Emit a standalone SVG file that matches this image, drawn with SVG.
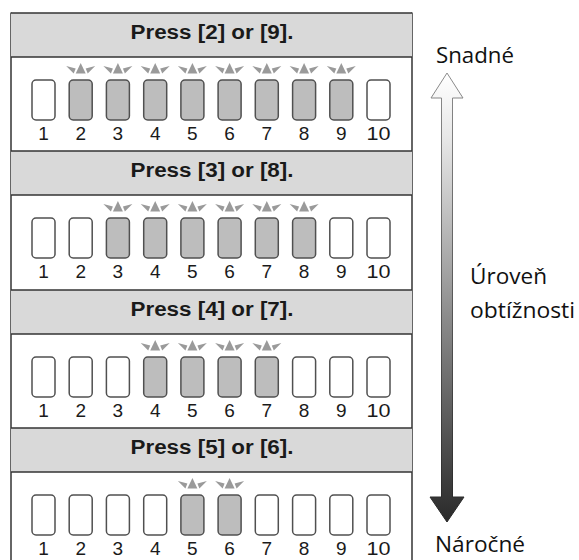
<svg xmlns="http://www.w3.org/2000/svg" xmlns:xlink="http://www.w3.org/1999/xlink" width="579" height="560" viewBox="0 0 579 560">
<style>
.hdr{fill:#d9d9d9}
.ln{stroke:#333;stroke-width:1.5;fill:none}
.ht{font-family:"Liberation Sans",Arial,sans-serif;font-weight:bold;font-size:19.5px;fill:#1a1a1a;text-anchor:middle}
.num{font-family:"Liberation Sans",Arial,sans-serif;font-size:19px;fill:#1a1a1a;text-anchor:middle}
.lbl{font-family:"Open Sans","Noto Sans",sans-serif;font-size:21px;fill:#111}
.key{stroke:#505050;stroke-width:1.5}
.off{fill:#fff}
.on{fill:#bdbdbd}
.crown{fill:#9a9a9a}
</style>
<defs>
<g id="crown">
<polygon class="crown" points="-14.5,-14 -5,-11.5 -7,-6.5"/>
<polygon class="crown" points="14.5,-14 5,-11.5 7,-6.5"/>
<polygon class="crown" points="0,-17 -5,-6.5 5,-6.5"/>
</g>
<rect id="kOff" class="key off" x="0" y="0" width="23" height="40" rx="4"/>
<rect id="kOn" class="key on" x="0" y="0" width="23" height="40" rx="4"/>
<linearGradient id="arrFill" gradientUnits="userSpaceOnUse" x1="0" y1="73" x2="0" y2="522">
<stop offset="0" stop-color="#ffffff"/>
<stop offset="0.15" stop-color="#e6e6e6"/>
<stop offset="0.55" stop-color="#8a8a8a"/>
<stop offset="1" stop-color="#2a2a2a"/>
</linearGradient>
<linearGradient id="arrStroke" gradientUnits="userSpaceOnUse" x1="0" y1="73" x2="0" y2="522">
<stop offset="0" stop-color="#8c8c8c"/>
<stop offset="1" stop-color="#262626"/>
</linearGradient>
</defs>

<g id="frame">
<line class="ln" x1="11" y1="12.5" x2="11" y2="560"/>
<line class="ln" x1="412" y1="12.5" x2="412" y2="560"/>
</g>

<g id="section1">
<rect class="hdr" x="11" y="13" width="401" height="44"/>
<line class="ln" x1="11" y1="13" x2="412" y2="13"/>
<line class="ln" x1="11" y1="57" x2="412" y2="57"/>
<text class="ht" x="212" y="38.5" textLength="163" lengthAdjust="spacingAndGlyphs">Press [2] or [9].</text>
<use xlink:href="#kOff" x="32" y="80"/>
<use xlink:href="#kOn" x="69.2" y="80"/><use xlink:href="#crown" x="80.7" y="80"/>
<use xlink:href="#kOn" x="106.4" y="80"/><use xlink:href="#crown" x="117.9" y="80"/>
<use xlink:href="#kOn" x="143.7" y="80"/><use xlink:href="#crown" x="155.2" y="80"/>
<use xlink:href="#kOn" x="180.9" y="80"/><use xlink:href="#crown" x="192.4" y="80"/>
<use xlink:href="#kOn" x="218.1" y="80"/><use xlink:href="#crown" x="229.6" y="80"/>
<use xlink:href="#kOn" x="255.3" y="80"/><use xlink:href="#crown" x="266.8" y="80"/>
<use xlink:href="#kOn" x="292.6" y="80"/><use xlink:href="#crown" x="304.1" y="80"/>
<use xlink:href="#kOn" x="329.8" y="80"/><use xlink:href="#crown" x="341.3" y="80"/>
<use xlink:href="#kOff" x="367" y="80"/>
<text class="num" x="43.5" y="140">1</text><text class="num" x="80.7" y="140">2</text><text class="num" x="117.9" y="140">3</text><text class="num" x="155.2" y="140">4</text><text class="num" x="192.4" y="140">5</text><text class="num" x="229.6" y="140">6</text><text class="num" x="266.8" y="140">7</text><text class="num" x="304.1" y="140">8</text><text class="num" x="341.3" y="140">9</text><text class="num" x="378.5" y="140" textLength="24" lengthAdjust="spacingAndGlyphs">10</text>
</g>

<g id="section2">
<rect class="hdr" x="11" y="151" width="401" height="44"/>
<line class="ln" x1="11" y1="151" x2="412" y2="151"/>
<line class="ln" x1="11" y1="195" x2="412" y2="195"/>
<text class="ht" x="212" y="176.5" textLength="163" lengthAdjust="spacingAndGlyphs">Press [3] or [8].</text>
<use xlink:href="#kOff" x="32" y="218"/>
<use xlink:href="#kOff" x="69.2" y="218"/>
<use xlink:href="#kOn" x="106.4" y="218"/><use xlink:href="#crown" x="117.9" y="218"/>
<use xlink:href="#kOn" x="143.7" y="218"/><use xlink:href="#crown" x="155.2" y="218"/>
<use xlink:href="#kOn" x="180.9" y="218"/><use xlink:href="#crown" x="192.4" y="218"/>
<use xlink:href="#kOn" x="218.1" y="218"/><use xlink:href="#crown" x="229.6" y="218"/>
<use xlink:href="#kOn" x="255.3" y="218"/><use xlink:href="#crown" x="266.8" y="218"/>
<use xlink:href="#kOn" x="292.6" y="218"/><use xlink:href="#crown" x="304.1" y="218"/>
<use xlink:href="#kOff" x="329.8" y="218"/>
<use xlink:href="#kOff" x="367" y="218"/>
<text class="num" x="43.5" y="278">1</text><text class="num" x="80.7" y="278">2</text><text class="num" x="117.9" y="278">3</text><text class="num" x="155.2" y="278">4</text><text class="num" x="192.4" y="278">5</text><text class="num" x="229.6" y="278">6</text><text class="num" x="266.8" y="278">7</text><text class="num" x="304.1" y="278">8</text><text class="num" x="341.3" y="278">9</text><text class="num" x="378.5" y="278" textLength="24" lengthAdjust="spacingAndGlyphs">10</text>
</g>

<g id="section3">
<rect class="hdr" x="11" y="290" width="401" height="44"/>
<line class="ln" x1="11" y1="290" x2="412" y2="290"/>
<line class="ln" x1="11" y1="334" x2="412" y2="334"/>
<text class="ht" x="212" y="315.5" textLength="163" lengthAdjust="spacingAndGlyphs">Press [4] or [7].</text>
<use xlink:href="#kOff" x="32" y="357"/>
<use xlink:href="#kOff" x="69.2" y="357"/>
<use xlink:href="#kOff" x="106.4" y="357"/>
<use xlink:href="#kOn" x="143.7" y="357"/><use xlink:href="#crown" x="155.2" y="357"/>
<use xlink:href="#kOn" x="180.9" y="357"/><use xlink:href="#crown" x="192.4" y="357"/>
<use xlink:href="#kOn" x="218.1" y="357"/><use xlink:href="#crown" x="229.6" y="357"/>
<use xlink:href="#kOn" x="255.3" y="357"/><use xlink:href="#crown" x="266.8" y="357"/>
<use xlink:href="#kOff" x="292.6" y="357"/>
<use xlink:href="#kOff" x="329.8" y="357"/>
<use xlink:href="#kOff" x="367" y="357"/>
<text class="num" x="43.5" y="417">1</text><text class="num" x="80.7" y="417">2</text><text class="num" x="117.9" y="417">3</text><text class="num" x="155.2" y="417">4</text><text class="num" x="192.4" y="417">5</text><text class="num" x="229.6" y="417">6</text><text class="num" x="266.8" y="417">7</text><text class="num" x="304.1" y="417">8</text><text class="num" x="341.3" y="417">9</text><text class="num" x="378.5" y="417" textLength="24" lengthAdjust="spacingAndGlyphs">10</text>
</g>

<g id="section4">
<rect class="hdr" x="11" y="428" width="401" height="44"/>
<line class="ln" x1="11" y1="428" x2="412" y2="428"/>
<line class="ln" x1="11" y1="472" x2="412" y2="472"/>
<text class="ht" x="212" y="454" textLength="163" lengthAdjust="spacingAndGlyphs">Press [5] or [6].</text>
<use xlink:href="#kOff" x="32" y="495"/>
<use xlink:href="#kOff" x="69.2" y="495"/>
<use xlink:href="#kOff" x="106.4" y="495"/>
<use xlink:href="#kOff" x="143.7" y="495"/>
<use xlink:href="#kOn" x="180.9" y="495"/><use xlink:href="#crown" x="192.4" y="495"/>
<use xlink:href="#kOn" x="218.1" y="495"/><use xlink:href="#crown" x="229.6" y="495"/>
<use xlink:href="#kOff" x="255.3" y="495"/>
<use xlink:href="#kOff" x="292.6" y="495"/>
<use xlink:href="#kOff" x="329.8" y="495"/>
<use xlink:href="#kOff" x="367" y="495"/>
<text class="num" x="43.5" y="555">1</text><text class="num" x="80.7" y="555">2</text><text class="num" x="117.9" y="555">3</text><text class="num" x="155.2" y="555">4</text><text class="num" x="192.4" y="555">5</text><text class="num" x="229.6" y="555">6</text><text class="num" x="266.8" y="555">7</text><text class="num" x="304.1" y="555">8</text><text class="num" x="341.3" y="555">9</text><text class="num" x="378.5" y="555" textLength="24" lengthAdjust="spacingAndGlyphs">10</text>
</g>

<g id="connectors">
<path d="M447,73 L463,98 L452.5,98 L452.5,497 L464,497 L447,522 L430,497 L441.5,497 L441.5,98 L431,98 Z" fill="url(#arrFill)" stroke="url(#arrStroke)" stroke-width="1"/>
</g>

<g id="labels">
<text class="lbl" x="436" y="63" textLength="78" lengthAdjust="spacingAndGlyphs">Snadné</text>
<text class="lbl" x="470" y="284" textLength="77" lengthAdjust="spacingAndGlyphs">Úroveň</text>
<text class="lbl" x="470" y="318" textLength="105" lengthAdjust="spacingAndGlyphs">obtížnosti</text>
<text class="lbl" x="435" y="552" textLength="90" lengthAdjust="spacingAndGlyphs">Náročné</text>
</g>
</svg>
